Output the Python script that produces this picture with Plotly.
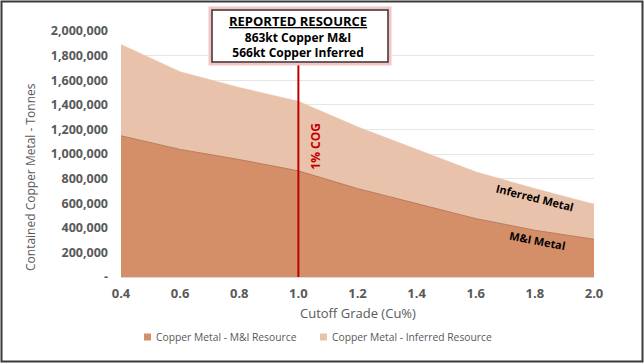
import plotly.graph_objects as go

cutoff = [0.4, 0.6, 0.8, 1.0, 1.2, 1.4, 1.6, 1.8, 2.0]
mi_metal = [1148000, 1037000, 955000, 863000, 719000, 597000, 475000, 380000, 307000]
inferred_metal = [743000, 632000, 586000, 566000, 502000, 442000, 380000, 339000, 285000]
y_tick_vals = [0, 200000, 400000, 600000, 800000, 1000000, 1200000, 1400000, 1600000, 1800000, 2000000]
y_tick_text = ["-", "200,000", "400,000", "600,000", "800,000", "1,000,000", "1,200,000",
               "1,400,000", "1,600,000", "1,800,000", "2,000,000"]
x_tick_vals = [0.4, 0.6, 0.8, 1.0, 1.2, 1.4, 1.6, 1.8, 2.0]
x_tick_text = ["0.4", "0.6", "0.8", "1.0", "1.2", "1.4", "1.6", "1.8", "2.0"]
series_names = ["Copper Metal - M&I Resource", "Copper Metal - Inferred Resource"]

MI_COLOR = "#D48F69"
INF_COLOR = "#E9C2AC"
GRAY = "#595959"
RED = "#C00000"
FONT = "Open Sans"

fig = go.Figure()
fig.add_trace(go.Scatter(
    x=cutoff, y=mi_metal, name=series_names[0], showlegend=False,
    stackgroup="one", mode="lines", line=dict(color="#B97A57", width=1),
    fillcolor=MI_COLOR))
fig.add_trace(go.Scatter(
    x=cutoff, y=inferred_metal, name=series_names[1], showlegend=False,
    stackgroup="one", mode="lines", line=dict(color=INF_COLOR, width=0.5),
    fillcolor=INF_COLOR))

W, H = 644, 363
L, R, T, B = 121, 50, 31, 86
pw = W - L - R
ph = H - T - B

def px(xp):
    return (xp - L) / pw

def py(yp):
    return (H - B - yp) / ph

shapes = [
    # outer frame
    dict(type="rect", xref="paper", yref="paper", x0=px(1.5), x1=px(642.5), y0=py(361.5), y1=py(1.5),
         line=dict(color="#3a3a3a", width=2), fillcolor="rgba(0,0,0,0)", layer="above"),
    # COG line
    dict(type="line", xref="x", yref="paper", x0=1.0, x1=1.0, y0=0, y1=py(62),
         line=dict(color=RED, width=2), layer="above"),
    # box glow
    dict(type="rect", xref="paper", yref="paper", x0=px(210), x1=px(390), y0=py(64), y1=py(8),
         line=dict(color="#F2C6C6", width=3), fillcolor="white", layer="above"),
    # box
    dict(type="rect", xref="paper", yref="paper", x0=px(212), x1=px(388), y0=py(62), y1=py(10),
         line=dict(color="#3b2b2b", width=1.5), fillcolor="white", layer="above"),
]

def ann(text, x, y, xref="paper", yref="paper", size=12, color=GRAY, angle=0, xanchor="center"):
    return dict(text=text, x=x, y=y, xref=xref, yref=yref, showarrow=False, textangle=angle,
                xanchor=xanchor, yanchor="middle", font=dict(family=FONT, size=size, color=color))

box_text = ("<b><u><span style='font-size:13px'>REPORTED RESOURCE</span></u></b><br>"
            "<b>863kt Copper M&I</b><br><b>566kt Copper Inferred</b>")

annotations = [
    ann(box_text, 1.0, py(36), xref="x", size=12, color="black"),
    ann("<b>1% COG</b>", 1.06, 1060000, xref="x", yref="y", size=12, color=RED, angle=-90),
    ann("<b>Inferred Metal</b>", 1.80, 645000, xref="x", yref="y", size=11, color="black", angle=14),
    ann("<b>M&I Metal</b>", 1.81, 295000, xref="x", yref="y", size=11, color="black", angle=11),
    ann("Contained Copper Metal - Tonnes", px(30), py(177), size=12, angle=-90),
    ann("Cutoff Grade (Cu%)", px(358), py(313), size=13),
]

# legend (squares + labels)
legend_sq_x = [147.5, 323.5]
legend_txt_x = [154, 330]
for name, col, sx, tx in zip(series_names, [MI_COLOR, INF_COLOR], legend_sq_x, legend_txt_x):
    shapes.append(dict(type="rect", xref="paper", yref="paper",
                       x0=px(sx - 3.5), x1=px(sx + 3.5), y0=py(340.5), y1=py(333.5),
                       fillcolor=col, line=dict(width=0), layer="above"))
    annotations.append(ann(name, px(tx), py(337), size=10.3, xanchor="left"))

fig.update_layout(
    width=W, height=H,
    margin=dict(l=L, r=R, t=T, b=B),
    paper_bgcolor="white", plot_bgcolor="white",
    font=dict(family=FONT, color=GRAY),
    showlegend=False,
    shapes=shapes, annotations=annotations,
    xaxis=dict(range=[0.4, 2.0], tickvals=x_tick_vals, ticktext=x_tick_text,
               showgrid=False, zeroline=False, showline=True, linecolor="#D9D9D9",
               ticks="", tickfont=dict(family=FONT, size=13, color=GRAY, weight="bold"),
               ticklabelstandoff=4),
    yaxis=dict(range=[0, 2000000], tickvals=y_tick_vals, ticktext=y_tick_text,
               showgrid=True, gridcolor="#E6E6E6", gridwidth=1, zeroline=False,
               ticks="", tickfont=dict(family=FONT, size=12.5, color=GRAY, weight="bold"),
               ticklabelstandoff=12),
)

fig.write_html("out.html", config={"displayModeBar": False},
               post_script="document.body.style.margin='0';document.body.style.overflow='hidden';")
